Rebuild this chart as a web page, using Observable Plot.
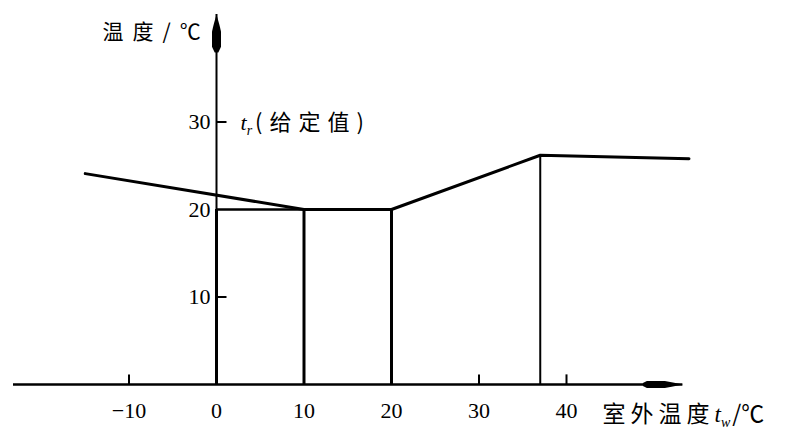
<!DOCTYPE html>
<html><head><meta charset="utf-8">
<script src="https://cdn.jsdelivr.net/npm/d3@7"></script>
<script src="https://cdn.jsdelivr.net/npm/@observablehq/plot@0.6"></script>
<style>
html,body{margin:0;padding:0;background:#fff;}
#chart{width:793px;height:430px;overflow:hidden;}
</style>
</head><body><div id="chart"></div>
<script>
// ---- data ----
const xTicks = [-10, 0, 10, 20, 30, 40];
const xTickLabels = ["−10", "0", "10", "20", "30", "40"];
const yTicks = [10, 20, 30];
const yTickLabels = ["10", "20", "30"];
const curveX = [-15, 10, 20, 37, 54];
const curveY = [24.1, 20, 20, 26.2, 25.8];
const dropX = [10, 20, 37];
const dropTop = [20, 20, 26.2];
const setpointY = 20;          // horizontal t_r level between 0 and 10
const xAxisExtent = [-23.2, 53.3];
const yAxisTop = 42.3;
const yLabel = "温度/℃";
const xLabel = "室外温度";
const setLabel = "(给定值)";

// ---- layout ----
const W = 793, H = 430;
const X0 = 216, Y0 = 384, PX = 8.75;
const xDomain = [(0 - X0) / PX, (W - X0) / PX];
const yDomain = [(Y0 - H) / PX, Y0 / PX];

const curve = curveX.map((x, i) => ({x, y: curveY[i]}));
const drops = dropX.map((x, i) => ({x, top: dropTop[i], w: x === 37 ? 2 : 3}));
const xt = xTicks.map((v, i) => ({v, label: xTickLabels[i]}));
const yt = yTicks.map((v, i) => ({v, label: yTickLabels[i]}));

const wedge = (len, half, neck) => ({
  draw(ctx) {
    ctx.moveTo(0, 0);
    ctx.lineTo(half * 0.6, len * 0.25);
    ctx.lineTo(half, len * 0.45);
    ctx.lineTo(half, len * neck);
    ctx.lineTo(half * 0.4, len);
    ctx.lineTo(-half * 0.4, len);
    ctx.lineTo(-half, len * neck);
    ctx.lineTo(-half, len * 0.45);
    ctx.lineTo(-half * 0.6, len * 0.25);
    ctx.closePath();
  }
});

const numFont = "Liberation Serif, DejaVu Serif, serif";
const cjkFont = "Noto Sans CJK SC, sans-serif";

const plot = Plot.plot({
  width: W, height: H, margin: 0,
  style: {background: "#fff"},
  x: {domain: xDomain, range: [0, W], axis: null},
  y: {domain: yDomain, range: [H, 0], axis: null},
  marks: [
    // x axis
    Plot.ruleY([0], {x1: xAxisExtent[0], x2: xAxisExtent[1], stroke: "#000", strokeWidth: 2.5}),
    Plot.dot([{x: xAxisExtent[1], y: 0}], {x: "x", y: "y", symbol: wedge(40, 3.5, 0.9), rotate: 90, fill: "#000", stroke: "none", r: 5}),
    // y axis
    Plot.ruleX([0], {y1: 0, y2: yAxisTop, stroke: "#000", strokeWidth: 2}),
    Plot.ruleX([0], {y1: 0, y2: setpointY, stroke: "#000", strokeWidth: 3}),
    Plot.dot([{x: 0, y: yAxisTop}], {x: "x", y: "y", symbol: wedge(38, 4.5, 0.85), fill: "#000", stroke: "none", r: 5}),
    // ticks
    Plot.ruleY(yt.filter(d => d.v !== 20), {y: "v", x1: 0, x2: 1.2, stroke: "#000", strokeWidth: 2}),
    Plot.ruleX(xt.filter(d => [-10, 30, 40].includes(d.v)), {x: "v", y1: 0, y2: 1.1, stroke: "#000", strokeWidth: 2}),
    // setpoint horizontal
    Plot.ruleY([setpointY], {x1: 0, x2: dropX[0], stroke: "#000", strokeWidth: 2.5}),
    // verticals
    Plot.ruleX(drops, {x: "x", y1: 0, y2: "top", stroke: "#000", strokeWidth: "w"}),
    // curve
    Plot.line(curve, {x: "x", y: "y", stroke: "#000", strokeWidth: 3, strokeLinejoin: "round"}),
    // tick labels
    Plot.text(xt, {x: "v", y: 0, text: "label", dy: 26, fontSize: 22, fontFamily: numFont, fill: "#000"}),
    Plot.text(yt, {x: 0, y: "v", text: "label", dx: -6, textAnchor: "end", fontSize: 22, fontFamily: numFont, fill: "#000"}),
    // labels
    Plot.text([yLabel], {x: 0, y: yAxisTop, text: d => d, dx: -114, dy: 18, textAnchor: "start", fontSize: 21, fontFamily: cjkFont, fill: "#000", className: "ylab"}),
    Plot.text([setLabel], {x: 0, y: 30, text: d => d, dx: 24, dy: 1, textAnchor: "start", fontSize: 22, fontFamily: cjkFont, fill: "#000", className: "setlab"}),
    Plot.text([xLabel], {x: xTicks[5], y: 0, text: d => d, dx: 36, dy: 30, textAnchor: "start", fontSize: 23, fontFamily: cjkFont, fill: "#000", className: "xlab"})
  ]
});
document.getElementById("chart").appendChild(plot);

// italic symbols with subscripts
const sel = d3.select(plot);
const st = sel.select("g.setlab text");
st.text(null);
st.append("tspan").attr("font-style", "italic").attr("font-family", numFont).text("t");
st.append("tspan").attr("font-size", 14).attr("dy", 5).attr("font-family", numFont).attr("font-style", "italic").text("r");
st.append("tspan").attr("dy", -5).attr("dx", 3).attr("letter-spacing", 7).text(setLabel);
const xl = sel.select("g.xlab text");
xl.text(null);
xl.append("tspan").attr("letter-spacing", 5).text(xLabel);
xl.append("tspan").attr("font-style", "italic").attr("font-family", numFont).text("t");
xl.append("tspan").attr("font-size", 14).attr("dy", 5).attr("font-family", numFont).attr("font-style", "italic").text("w");
xl.append("tspan").attr("dy", -5).attr("dx", 2).text("/℃");
sel.select("g.ylab text").attr("letter-spacing", 9);
</script>
</body></html>
